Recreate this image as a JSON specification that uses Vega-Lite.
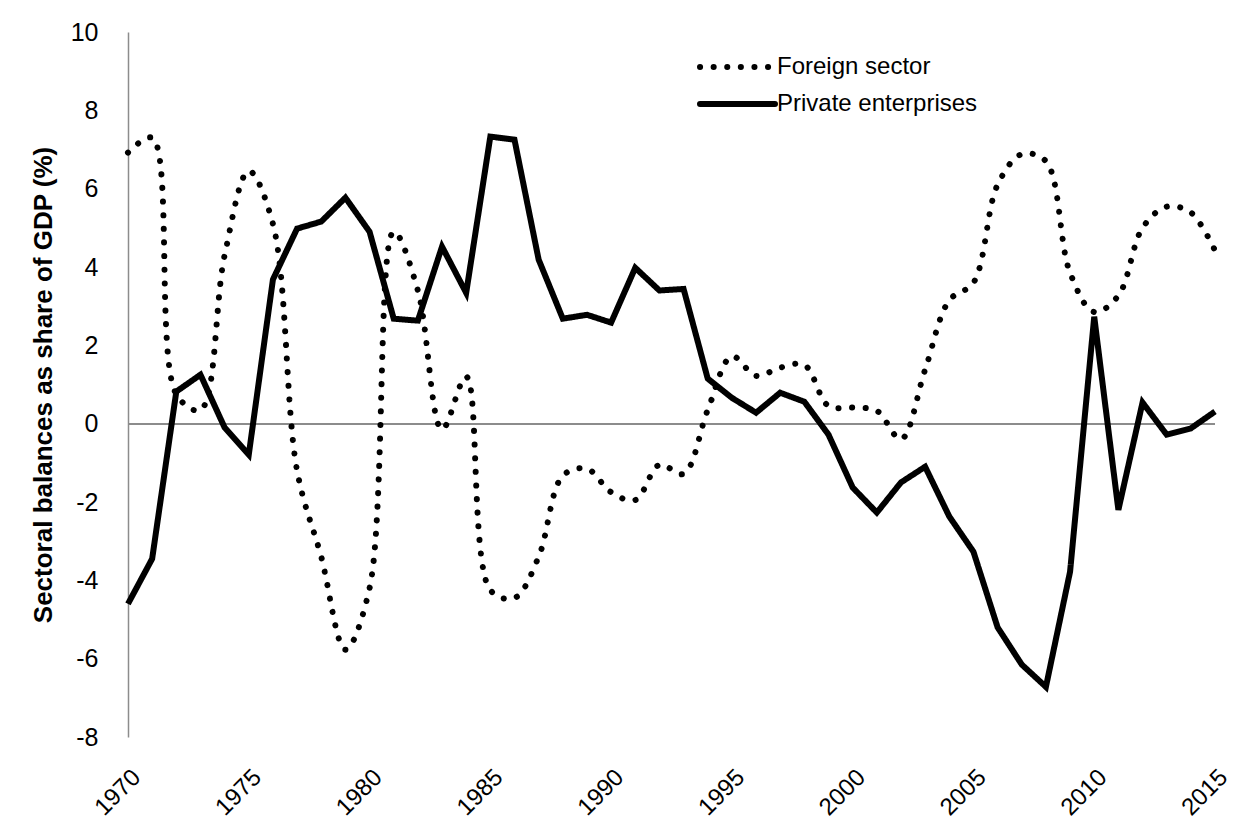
{
  "$schema": "https://vega.github.io/schema/vega-lite/v6.json",
  "width": 1087,
  "height": 705,
  "autosize": {"type": "none"},
  "padding": {"left": 128, "top": 32, "right": 31, "bottom": 84},
  "background": "white",
  "config": {
    "view": {"stroke": null},
    "font": "Liberation Sans, Arial",
    "axisY": {
      "domainColor": "#8c8c8c",
      "domainWidth": 1.5,
      "ticks": false,
      "tickSize": 0,
      "grid": false,
      "labelFontSize": 25,
      "labelColor": "#000000",
      "labelPadding": 30,
      "labelExpr": "'' + datum.value",
      "titleFontSize": 26,
      "titleFontWeight": "bold",
      "titleColor": "#000000",
      "titlePadding": 14
    },
    "axisX": {
      "domain": false,
      "ticks": false,
      "tickSize": 0,
      "grid": false,
      "labelAngle": -45,
      "labelAlign": "right",
      "labelBaseline": "top",
      "labelPadding": 28,
      "labelFontSize": 24,
      "labelColor": "#000000",
      "labelOverlap": false,
      "labelFlush": false,
      "labelBound": false,
      "labelExpr": "'' + datum.value"
    }
  },
  "data": {
    "values": [
      {"year": 1970, "series": "Foreign sector", "value": 6.92},
      {"year": 1971, "series": "Foreign sector", "value": 7.3},
      {"year": 1972, "series": "Foreign sector", "value": 0.75},
      {"year": 1973, "series": "Foreign sector", "value": 0.35},
      {"year": 1974, "series": "Foreign sector", "value": 4.3},
      {"year": 1975, "series": "Foreign sector", "value": 6.45},
      {"year": 1976, "series": "Foreign sector", "value": 5.1},
      {"year": 1977, "series": "Foreign sector", "value": -1.2},
      {"year": 1978, "series": "Foreign sector", "value": -3.4},
      {"year": 1979, "series": "Foreign sector", "value": -5.77},
      {"year": 1980, "series": "Foreign sector", "value": -4.2},
      {"year": 1981, "series": "Foreign sector", "value": 4.9},
      {"year": 1982, "series": "Foreign sector", "value": 3.4},
      {"year": 1983, "series": "Foreign sector", "value": -0.15},
      {"year": 1984, "series": "Foreign sector", "value": 1.2},
      {"year": 1985, "series": "Foreign sector", "value": -4.25},
      {"year": 1986, "series": "Foreign sector", "value": -4.45},
      {"year": 1987, "series": "Foreign sector", "value": -3.4},
      {"year": 1988, "series": "Foreign sector", "value": -1.33},
      {"year": 1989, "series": "Foreign sector", "value": -1.15},
      {"year": 1990, "series": "Foreign sector", "value": -1.75},
      {"year": 1991, "series": "Foreign sector", "value": -1.95},
      {"year": 1992, "series": "Foreign sector", "value": -1.05},
      {"year": 1993, "series": "Foreign sector", "value": -1.28},
      {"year": 1994, "series": "Foreign sector", "value": 0.35},
      {"year": 1995, "series": "Foreign sector", "value": 1.72},
      {"year": 1996, "series": "Foreign sector", "value": 1.22},
      {"year": 1997, "series": "Foreign sector", "value": 1.43},
      {"year": 1998, "series": "Foreign sector", "value": 1.5},
      {"year": 1999, "series": "Foreign sector", "value": 0.45},
      {"year": 2000, "series": "Foreign sector", "value": 0.41},
      {"year": 2001, "series": "Foreign sector", "value": 0.33},
      {"year": 2002, "series": "Foreign sector", "value": -0.4},
      {"year": 2003, "series": "Foreign sector", "value": 1.38},
      {"year": 2004, "series": "Foreign sector", "value": 3.15},
      {"year": 2005, "series": "Foreign sector", "value": 3.6},
      {"year": 2006, "series": "Foreign sector", "value": 6.1},
      {"year": 2007, "series": "Foreign sector", "value": 6.88},
      {"year": 2008, "series": "Foreign sector", "value": 6.7},
      {"year": 2009, "series": "Foreign sector", "value": 3.85},
      {"year": 2010, "series": "Foreign sector", "value": 2.85},
      {"year": 2011, "series": "Foreign sector", "value": 3.27},
      {"year": 2012, "series": "Foreign sector", "value": 5.0},
      {"year": 2013, "series": "Foreign sector", "value": 5.54},
      {"year": 2014, "series": "Foreign sector", "value": 5.39},
      {"year": 2015, "series": "Foreign sector", "value": 4.42},
      {"year": 1970, "series": "Private enterprises", "value": -4.6},
      {"year": 1971, "series": "Private enterprises", "value": -3.45},
      {"year": 1972, "series": "Private enterprises", "value": 0.82},
      {"year": 1973, "series": "Private enterprises", "value": 1.25},
      {"year": 1974, "series": "Private enterprises", "value": -0.1},
      {"year": 1975, "series": "Private enterprises", "value": -0.79},
      {"year": 1976, "series": "Private enterprises", "value": 3.68},
      {"year": 1977, "series": "Private enterprises", "value": 4.98},
      {"year": 1978, "series": "Private enterprises", "value": 5.16},
      {"year": 1979, "series": "Private enterprises", "value": 5.77},
      {"year": 1980, "series": "Private enterprises", "value": 4.9},
      {"year": 1981, "series": "Private enterprises", "value": 2.68},
      {"year": 1982, "series": "Private enterprises", "value": 2.63},
      {"year": 1983, "series": "Private enterprises", "value": 4.52},
      {"year": 1984, "series": "Private enterprises", "value": 3.34},
      {"year": 1985, "series": "Private enterprises", "value": 7.33},
      {"year": 1986, "series": "Private enterprises", "value": 7.25},
      {"year": 1987, "series": "Private enterprises", "value": 4.19},
      {"year": 1988, "series": "Private enterprises", "value": 2.68},
      {"year": 1989, "series": "Private enterprises", "value": 2.78},
      {"year": 1990, "series": "Private enterprises", "value": 2.58},
      {"year": 1991, "series": "Private enterprises", "value": 3.98},
      {"year": 1992, "series": "Private enterprises", "value": 3.4},
      {"year": 1993, "series": "Private enterprises", "value": 3.44},
      {"year": 1994, "series": "Private enterprises", "value": 1.15},
      {"year": 1995, "series": "Private enterprises", "value": 0.66},
      {"year": 1996, "series": "Private enterprises", "value": 0.28},
      {"year": 1997, "series": "Private enterprises", "value": 0.79},
      {"year": 1998, "series": "Private enterprises", "value": 0.56},
      {"year": 1999, "series": "Private enterprises", "value": -0.28},
      {"year": 2000, "series": "Private enterprises", "value": -1.63},
      {"year": 2001, "series": "Private enterprises", "value": -2.27},
      {"year": 2002, "series": "Private enterprises", "value": -1.5},
      {"year": 2003, "series": "Private enterprises", "value": -1.1},
      {"year": 2004, "series": "Private enterprises", "value": -2.37},
      {"year": 2005, "series": "Private enterprises", "value": -3.27},
      {"year": 2006, "series": "Private enterprises", "value": -5.2},
      {"year": 2007, "series": "Private enterprises", "value": -6.15},
      {"year": 2008, "series": "Private enterprises", "value": -6.72},
      {"year": 2009, "series": "Private enterprises", "value": -3.78},
      {"year": 2010, "series": "Private enterprises", "value": 2.73},
      {"year": 2011, "series": "Private enterprises", "value": -2.2},
      {"year": 2012, "series": "Private enterprises", "value": 0.54},
      {"year": 2013, "series": "Private enterprises", "value": -0.28},
      {"year": 2014, "series": "Private enterprises", "value": -0.12},
      {"year": 2015, "series": "Private enterprises", "value": 0.31}
    ]
  },
  "layer": [
    {
      "mark": {"type": "rule", "color": "#8c8c8c", "strokeWidth": 1.5},
      "encoding": {"y": {"datum": 0, "type": "quantitative"}}
    },
    {
      "transform": [{"filter": "datum.series === 'Foreign sector'"}],
      "mark": {"type": "line", "interpolate": "catmull-rom", "strokeWidth": 6, "strokeCap": "round", "color": "#000000"},
      "encoding": {
        "x": {"field": "year", "type": "quantitative", "scale": {"domain": [1970, 2015], "nice": false, "zero": false},
              "axis": {"title": null, "values": [1970, 1975, 1980, 1985, 1990, 1995, 2000, 2005, 2010, 2015]}},
        "y": {"field": "value", "type": "quantitative", "scale": {"domain": [-8, 10], "nice": false, "zero": false},
              "axis": {"title": "Sectoral balances as share of GDP (%)", "values": [-8, -6, -4, -2, 0, 2, 4, 6, 8, 10]}},
        "strokeDash": {"field": "series", "type": "nominal",
          "scale": {"domain": ["Foreign sector", "Private enterprises"], "range": [[0.1, 13.5], [1, 0]]},
          "legend": {"title": null, "orient": "none", "legendX": 569, "legendY": 17,
            "symbolType": "M-1,0H4", "symbolSize": 900, "symbolStrokeWidth": 6, "symbolStrokeColor": "#000000", "symbolFillColor": "transparent",
            "labelFontSize": 24, "labelColor": "#000000", "labelOffset": 44, "labelLimit": 0, "rowPadding": 7, "padding": 0,
            "encode": {"symbols": {"update": {"strokeCap": {"value": "round"}}}}}}
      }
    },
    {
      "transform": [{"filter": "datum.series === 'Private enterprises'"}],
      "mark": {"type": "line", "strokeWidth": 6, "color": "#000000"},
      "encoding": {
        "x": {"field": "year", "type": "quantitative", "scale": {"domain": [1970, 2015], "nice": false, "zero": false},
              "axis": {"title": null, "values": [1970, 1975, 1980, 1985, 1990, 1995, 2000, 2005, 2010, 2015]}},
        "y": {"field": "value", "type": "quantitative", "scale": {"domain": [-8, 10], "nice": false, "zero": false},
              "axis": {"title": "Sectoral balances as share of GDP (%)", "values": [-8, -6, -4, -2, 0, 2, 4, 6, 8, 10]}},
        "strokeDash": {"field": "series", "type": "nominal",
          "scale": {"domain": ["Foreign sector", "Private enterprises"], "range": [[0.1, 13.5], [1, 0]]},
          "legend": {"title": null, "orient": "none", "legendX": 569, "legendY": 17,
            "symbolType": "M-1,0H4", "symbolSize": 900, "symbolStrokeWidth": 6, "symbolStrokeColor": "#000000", "symbolFillColor": "transparent",
            "labelFontSize": 24, "labelColor": "#000000", "labelOffset": 44, "labelLimit": 0, "rowPadding": 7, "padding": 0,
            "encode": {"symbols": {"update": {"strokeCap": {"value": "round"}}}}}}
      }
    }
  ]
}
